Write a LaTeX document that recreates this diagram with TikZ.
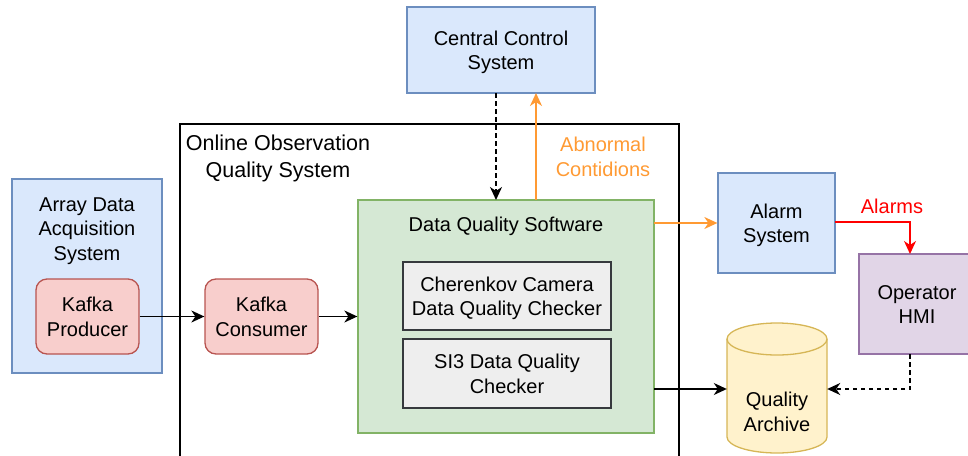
\documentclass[tikz,border=0pt]{standalone}
\usepackage{fontspec}
\setmainfont{Liberation Sans}
\usetikzlibrary{arrows.meta}

\definecolor{bluefill}{HTML}{DAE8FC}
\definecolor{bluedraw}{HTML}{6C8EBF}
\definecolor{redfill}{HTML}{F8CECC}
\definecolor{reddraw}{HTML}{B85450}
\definecolor{greenfill}{HTML}{D5E8D4}
\definecolor{greendraw}{HTML}{82B366}
\definecolor{greyfill}{HTML}{EEEEEE}
\definecolor{greydraw}{HTML}{36393D}
\definecolor{purplefill}{HTML}{E1D5E7}
\definecolor{purpledraw}{HTML}{9673A6}
\definecolor{yellowfill}{HTML}{FFF2CC}
\definecolor{yellowdraw}{HTML}{D6B656}
\definecolor{flaglink}{HTML}{FF9A33}
\definecolor{alarmred}{HTML}{FF0000}

% centred lines, set a little lower than the box centre while keeping the box size
\newcommand\boxlines[1]{\raisebox{-2.5pt}[\height][\depth]{\begin{tabular}{@{}c@{}}#1\end{tabular}}}

\tikzset{
  lab/.style={font=\fontsize{20pt}{24.5pt}\selectfont, align=center, inner sep=0pt},
  biglab/.style={font=\fontsize{21.5pt}{27pt}\selectfont, align=center, inner sep=0pt},
  box/.style={lab, draw, line width=1.3pt},
  bluebox/.style={box, fill=bluefill, draw=bluedraw},
  kafkabox/.style={box, fill=redfill, draw=reddraw, rounded corners=11pt},
  greenbox/.style={box, fill=greenfill, draw=greendraw},
  greybox/.style={box, fill=greyfill, draw=greydraw},
  purplebox/.style={box, fill=purplefill, draw=purpledraw},
  tip/.style={-{Stealth[length=13pt,width=12pt,inset=4pt]}},
  flow/.style={tip, line width=1.4pt, black},
  dashflow/.style={tip, line width=1.4pt, black, dash pattern=on 4.5pt off 3.5pt},
  flagflow/.style={tip, line width=1.4pt, flaglink},
  alarmflow/.style={tip, line width=1.4pt, alarmred},
}

\begin{document}
\begin{tikzpicture}[x=1pt,y=-1pt]
\useasboundingbox (0,0) rectangle (968,455);
\clip (0,0) rectangle (968,455);

% enclosing system frame (runs off the lower edge)
\node[draw, line width=1.5pt, minimum width=499pt, minimum height=357pt, anchor=north west, inner sep=0pt] (oqs) at (179,123) {};
\node[biglab] (oqstitle) at (278,158) {Online Observation\\Quality System};

% upstream acquisition
\node[bluebox, minimum width=150pt, minimum height=194pt] (daq) at (87,276) {};
\node[lab] (daqtitle) at (87,231) {Array Data\\Acquisition\\System};
\node[kafkabox, minimum width=103pt, minimum height=75pt] (prod) at (87.5,316.5) {\boxlines{Kafka\\Producer}};
\node[kafkabox, minimum width=113pt, minimum height=75pt] (cons) at (261.5,316.5) {\boxlines{Kafka\\Consumer}};

% data quality software and its checkers
\node[greenbox, minimum width=296pt, minimum height=233pt] (dqs) at (506,316.5) {};
\node[lab] (dqstitle) at (506,226) {Data Quality Software};
\node[greybox, minimum width=208pt, minimum height=68pt] (cher) at (507,296) {\boxlines{Cherenkov Camera\\Data Quality Checker}};
\node[greybox, minimum width=208pt, minimum height=69pt] (si3) at (507,373.5) {\boxlines{SI3 Data Quality\\Checker}};

% external systems
\node[bluebox, minimum width=188pt, minimum height=86pt] (ccs) at (501,50) {\boxlines{Central Control\\System}};
\node[bluebox, minimum width=117pt, minimum height=100pt] (alarm) at (776.5,223) {\boxlines{Alarm\\System}};
\node[purplebox, minimum width=116pt, minimum height=100pt] (hmi) at (917,304) {\boxlines{Operator\\HMI}};

% quality archive cylinder
\node[minimum width=100pt, minimum height=132pt, inner sep=0pt] (arch) at (777,389) {};
\fill[yellowfill] (727,339) -- (727,437)
  arc[start angle=180, end angle=360, x radius=50pt, y radius=16pt] -- (827,339) -- cycle;
\fill[yellowfill] (777,339) ellipse[x radius=50pt, y radius=16pt];
\draw[yellowdraw, line width=1.3pt] (727,339) -- (727,437)
  arc[start angle=180, end angle=360, x radius=50pt, y radius=16pt] -- (827,339);
\draw[yellowdraw, line width=1.3pt] (777,339) ellipse[x radius=50pt, y radius=16pt];
\node[lab] (archlabel) at (777,412) {Quality\\Archive};

% connectors
\coordinate (ccsdown) at (496,93);
\coordinate (ccsup) at (536,93);
\coordinate (dqsin) at (496,200);
\coordinate (dqsout) at (536,200);
\coordinate (dqsalarm) at (654,223);
\coordinate (dqsarch) at (654,389);
\coordinate (alarmout) at (835,222);
\coordinate (alarmbend) at (910,222);
\coordinate (hmiin) at (910,254);
\coordinate (hmiout) at (910,354);
\coordinate (hmibend) at (910,389);

\draw[flow] (prod.east) -- (cons.west);
\draw[flow] (cons.east) -- (cons.east -| dqs.west);
\draw[dashflow] (ccsdown) -- (dqsin);
\draw[flagflow] (dqsout) -- (ccsup);
\draw[flagflow] (dqsalarm) -- (dqsalarm -| alarm.west);
\draw[alarmflow] (alarmout) -- (alarmbend) -- (hmiin);
\draw[flow] (dqsarch) -- (dqsarch -| arch.west);
\draw[dashflow] (hmiout) -- (hmibend) -- (hmibend -| arch.east);

% connector labels
\node[lab, text=flaglink] (abn) at (603,157) {Abnormal\\Contidions};
\node[lab, text=alarmred] (alm) at (892,206) {Alarms};
\end{tikzpicture}
\end{document}
